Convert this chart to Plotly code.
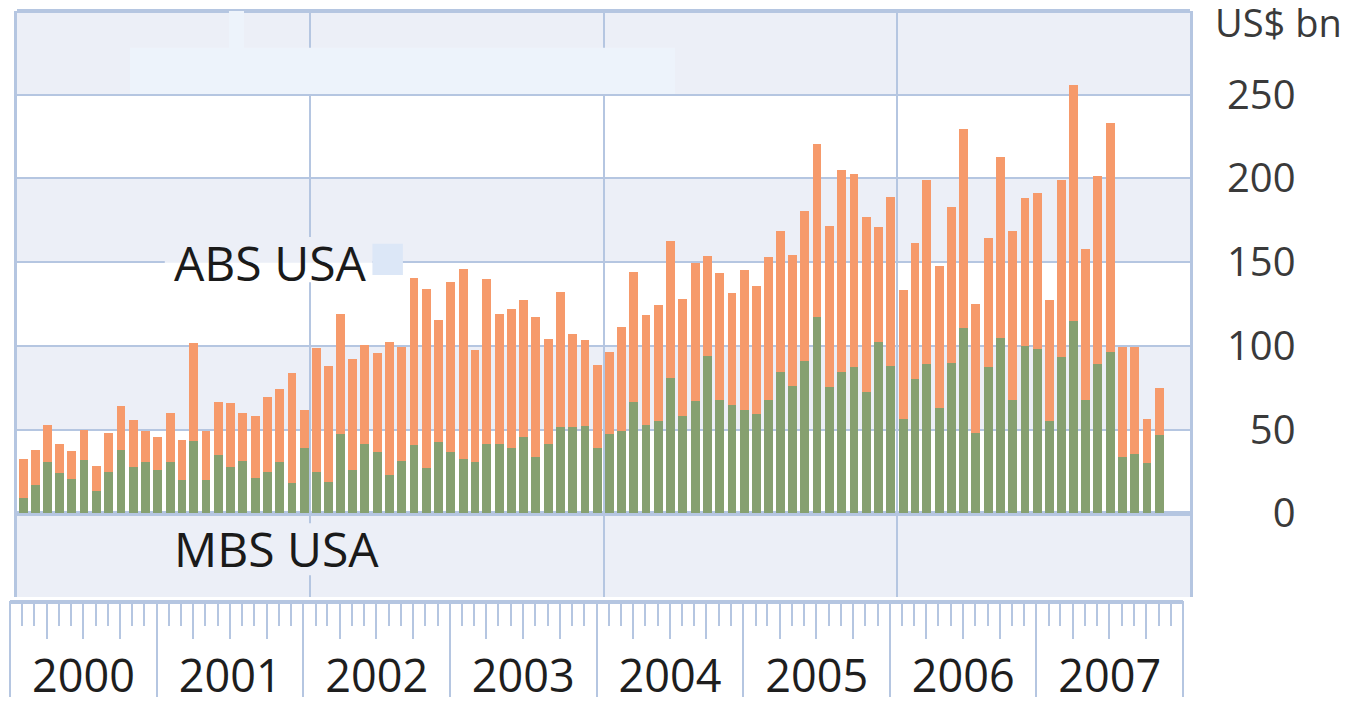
import plotly.graph_objects as go
import pandas as pd

# ---- data (US$ bn, monthly, Jan 2000 - Oct 2007) ----
months = pd.date_range("2000-01-01", "2007-10-01", freq="MS").strftime("%Y-%m-%d").tolist()

mbs_usa = [9.4, 17.1, 30.5, 24.3, 20.5, 32.1, 13.6, 24.5, 38.1, 27.9, 30.5, 25.7,
           30.5, 20.1, 43.1, 20.1, 34.7, 27.9, 31.3, 21.1, 24.5, 30.5, 18.1, 38.9,
           24.6, 18.7, 47.4, 26.1, 41.5, 36.7, 22.7, 31.5, 40.7, 27.1, 42.5, 36.5,
           32.3, 30.5, 41.5, 41.5, 38.7, 45.6, 33.9, 41.5, 51.4, 51.4, 52.0, 39.1,
           47.5, 49.0, 66.6, 52.6, 55.0, 81.1, 58.4, 67.0, 93.7, 67.6, 64.4, 61.8,
           59.2, 67.6, 84.5, 76.1, 90.7, 117.0, 75.2, 84.5, 87.1, 72.5, 102.2, 87.9,
           56.6, 80.1, 89.1, 62.6, 89.5, 110.8, 48.2, 87.1, 104.5, 67.6, 100.1, 97.9,
           55.2, 93.5, 114.8, 67.6, 89.1, 96.5, 33.7, 35.5, 30.3, 46.7]

abs_usa = [23.3, 20.8, 22.5, 17.0, 16.6, 17.5, 14.9, 23.5, 26.1, 27.7, 18.5, 19.9,
           29.5, 23.6, 58.4, 28.9, 31.7, 37.9, 28.7, 37.1, 44.7, 43.8, 65.4, 22.7,
           74.2, 69.0, 71.8, 66.0, 58.8, 58.8, 79.4, 67.6, 100.0, 107.1, 73.1, 101.8,
           113.6, 67.2, 98.6, 77.7, 83.5, 81.8, 83.5, 62.4, 81.0, 55.7, 51.7, 49.4,
           48.6, 62.1, 77.7, 65.6, 69.2, 81.8, 69.6, 82.3, 60.0, 75.9, 67.2, 83.4,
           76.8, 85.3, 84.3, 78.4, 90.1, 103.3, 96.3, 120.6, 115.7, 104.7, 69.0, 101.3,
           76.7, 81.2, 110.1, 85.1, 93.7, 118.7, 76.6, 77.6, 108.2, 101.1, 88.1, 93.3,
           72.2, 105.7, 140.8, 90.1, 112.6, 136.6, 65.4, 63.6, 25.9, 28.3]

y_ticks = [0, 50, 100, 150, 200, 250]
y_tick_text = ["\u2007\u20070", "\u200750", "100", "150", "200", "250"]
x_range = ["2000-01-01", "2008-01-01"]

# ---- style ----
GREEN = "#86A070"
ORANGE = "#F69A6B"
BAND = "#ECEFF7"
GRID = "#B5C6E1"
FONT = "Open Sans"
DAY_MS = 86400000

fig = go.Figure()
fig.add_trace(go.Bar(x=months, y=mbs_usa, name="MBS USA", marker=dict(color=GREEN, line_width=0),
                     width=22 * DAY_MS, xperiod="M1", xperiodalignment="middle"))
fig.add_trace(go.Bar(x=months, y=abs_usa, name="ABS USA", marker=dict(color=ORANGE, line_width=0),
                     width=22 * DAY_MS, xperiod="M1", xperiodalignment="middle"))
# empty helper traces so that the decorative bottom tick axes are drawn
for ax in ["x2", "x3", "x4", "x5"]:
    fig.add_trace(go.Scatter(x=["2000-01-01"], y=[None], xaxis=ax, yaxis="y2",
                             mode="markers", showlegend=False, hoverinfo="skip"))

# page body has an 8px margin, so the figure is 8px smaller than the window
W, H = 1349, 694
ML, MR, MT, MB = 2, 167, 3, 102
pw = W - ML - MR
ph = H - MT - MB
shift = 7 / pw

tick_axis = dict(domain=[0, 1 - shift], type="date", range=x_range, anchor="y2",
                 showgrid=False, zeroline=False, automargin=False, tick0="2000-01-01",
                 tickcolor=GRID, tickwidth=2)

fig.update_layout(
    template="none",
    width=W, height=H, margin=dict(l=ML, r=MR, t=MT, b=MB, pad=0, autoexpand=False),
    paper_bgcolor="white", plot_bgcolor="white",
    barmode="stack", bargap=0, showlegend=False,
    font=dict(family=FONT, color="#222222"),
    xaxis=dict(domain=[shift, 1], type="date", range=x_range, automargin=False,
               showgrid=True, gridcolor=GRID, gridwidth=2,
               tick0="2000-01-01", dtick="M24", ticks="", showticklabels=False,
               showline=False, zeroline=False),
    yaxis=dict(domain=[3 / ph, 1], range=[-50, 300], side="right", automargin=False,
               tickvals=y_ticks, ticktext=y_tick_text, ticks="",
               tickfont=dict(family=FONT, size=40, color="#3a3a3a"),
               ticklabelstandoff=26,
               showgrid=True, gridcolor=GRID, gridwidth=2,
               zeroline=True, zerolinecolor=GRID, zerolinewidth=5,
               showline=True, mirror=True, linecolor=GRID, linewidth=3),
    yaxis2=dict(domain=[0, 2 / ph], range=[0, 1], visible=False, automargin=False),
    xaxis2=dict(tick_axis, showline=True, linecolor=GRID, linewidth=4,
                ticks="outside", dtick="M1", ticklen=22, showticklabels=False),
    xaxis3=dict(tick_axis, overlaying="x2", showline=False,
                ticks="outside", dtick="M3", ticklen=38, showticklabels=False),
    xaxis4=dict(tick_axis, overlaying="x2", showline=False,
                ticks="outside", dtick="M12", ticklen=96, showticklabels=False),
    xaxis5=dict(tick_axis, overlaying="x2", showline=False,
                ticks="", dtick="M12", tickformat="%Y",
                ticklabelmode="period", ticklabelstandoff=46,
                tickfont=dict(family=FONT, size=45, color="#1e1e1e")),
)

shapes = []
# alternating background bands
for y0 in [-50, 50, 150, 250]:
    shapes.append(dict(type="rect", xref="x domain", yref="y", x0=0, x1=1, y0=y0, y1=y0 + 50,
                       fillcolor=BAND, line_width=0, layer="below"))
# top border line
shapes.append(dict(type="line", xref="x domain", yref="y domain", x0=0, x1=1, y0=1, y1=1,
                   line=dict(color=GRID, width=4), layer="above"))
# masked areas (cover-ups in the original picture)
shapes.append(dict(type="rect", xref="x domain", yref="y", x0=0.0963, x1=0.561, y0=250.5, y1=278,
                   fillcolor="#EDF3FB", line_width=0, layer="above"))
shapes.append(dict(type="rect", xref="x domain", yref="y", x0=0.1807, x1=0.1935, y0=271, y1=301,
                   fillcolor="#EDF3FB", line_width=0, layer="above"))
shapes.append(dict(type="rect", xref="x domain", yref="y", x0=0.126, x1=0.303, y0=150, y1=165,
                   fillcolor=BAND, line_width=0, layer="above"))
shapes.append(dict(type="rect", xref="x domain", yref="y", x0=0.126, x1=0.303, y0=138, y1=150,
                   fillcolor="white", line_width=0, layer="above"))
shapes.append(dict(type="rect", xref="x domain", yref="y", x0=0.303, x1=0.329, y0=142.3, y1=161,
                   fillcolor="#DCE7F7", line_width=0, layer="above"))
shapes.append(dict(type="rect", xref="x domain", yref="y", x0=0.126, x1=0.318, y0=-37, y1=-6,
                   fillcolor=BAND, line_width=0, layer="above"))
fig.update_layout(shapes=shapes)

fig.add_annotation(text="ABS USA", xref="x domain", yref="y", x=0.1325, y=149.5,
                   xanchor="left", yanchor="middle", showarrow=False,
                   font=dict(family=FONT, size=48, color="#1a1a1a"))
fig.add_annotation(text="MBS USA", xref="x domain", yref="y", x=0.1325, y=-21,
                   xanchor="left", yanchor="middle", showarrow=False,
                   font=dict(family=FONT, size=48, color="#1a1a1a"))
fig.add_annotation(text="US$ bn", xref="paper", yref="paper", x=1.0, y=1.0,
                   xanchor="left", yanchor="middle", xshift=23, yshift=-11, showarrow=False,
                   font=dict(family=FONT, size=38, color="#3a3a3a"))

fig.write_html("out.html")
